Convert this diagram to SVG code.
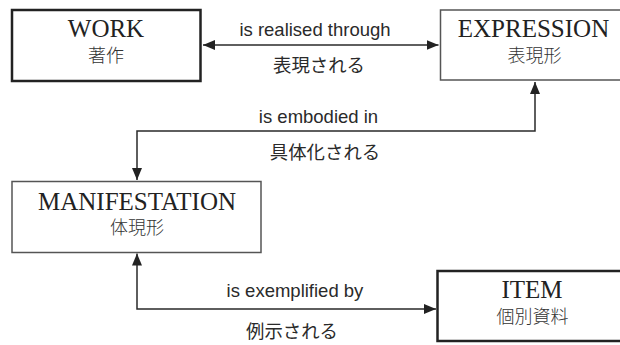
<svg xmlns="http://www.w3.org/2000/svg" width="620" height="345" viewBox="0 0 620 345">
  <style>
    .box-thick { fill: #ffffff; stroke: #222222; stroke-width: 2.5; }
    .box-thin { fill: #ffffff; stroke: #555555; stroke-width: 1.5; }
    .title { font-family: "Liberation Serif", "Times New Roman", serif; font-size: 25px; fill: #222222; text-anchor: middle; }
    .sub { font-family: "Noto Sans CJK JP", "Noto Sans CJK SC", sans-serif; font-size: 18px; fill: #333333; text-anchor: middle; font-weight: 300; }
    .label { font-family: "Liberation Sans", Arial, sans-serif; font-size: 18.5px; fill: #2a2a2a; text-anchor: middle; }
    .label-jp { font-family: "Noto Sans CJK JP", "Noto Sans CJK SC", sans-serif; font-size: 18.4px; fill: #2a2a2a; text-anchor: middle; }
    .conn { fill: none; stroke: #2a2a2a; stroke-width: 1.5; }
  </style>
  <defs>
    <marker id="arrow" viewBox="0 0 12 10" refX="12" refY="5" markerWidth="12" markerHeight="10" markerUnits="userSpaceOnUse" orient="auto-start-reverse">
      <path d="M0,0 L12,5 L0,10 Z" fill="#222222"/>
    </marker>
  </defs>

  <rect width="620" height="345" fill="#ffffff"/>

  <g id="connectors">
    <g id="realised">
      <line class="conn" x1="203" y1="45" x2="438.5" y2="45" marker-start="url(#arrow)" marker-end="url(#arrow)"/>
      <text class="label" x="315" y="36">is realised through</text>
      <text class="label-jp" x="319" y="72">表現される</text>
    </g>
    <g id="embodied">
      <path class="conn" d="M535,82 V131 H137 V180" marker-start="url(#arrow)" marker-end="url(#arrow)"/>
      <text class="label" x="318.5" y="123">is embodied in</text>
      <text class="label-jp" x="325" y="159">具体化される</text>
    </g>
    <g id="exemplified">
      <path class="conn" d="M137,253.5 V309 H436" marker-start="url(#arrow)" marker-end="url(#arrow)"/>
      <text class="label" x="295" y="297">is exemplified by</text>
      <text class="label-jp" x="292" y="338">例示される</text>
    </g>
  </g>

  <g id="work">
    <rect class="box-thick" x="12" y="10" width="188.5" height="71"/>
    <text class="title" x="106" y="37">WORK</text>
    <text class="sub" x="106" y="62">著作</text>
  </g>

  <g id="expression">
    <rect class="box-thin" x="440.5" y="10" width="190" height="70"/>
    <text class="title" x="533.5" y="37">EXPRESSION</text>
    <text class="sub" x="534.5" y="62">表現形</text>
  </g>

  <g id="manifestation">
    <rect class="box-thin" x="12" y="181.5" width="249" height="71"/>
    <text class="title" x="137" y="209.5">MANIFESTATION</text>
    <text class="sub" x="137" y="234">体現形</text>
  </g>

  <g id="item">
    <rect class="box-thick" x="437.5" y="271" width="192" height="70"/>
    <text class="title" x="532" y="298">ITEM</text>
    <text class="sub" x="532.5" y="323">個別資料</text>
  </g>
</svg>
